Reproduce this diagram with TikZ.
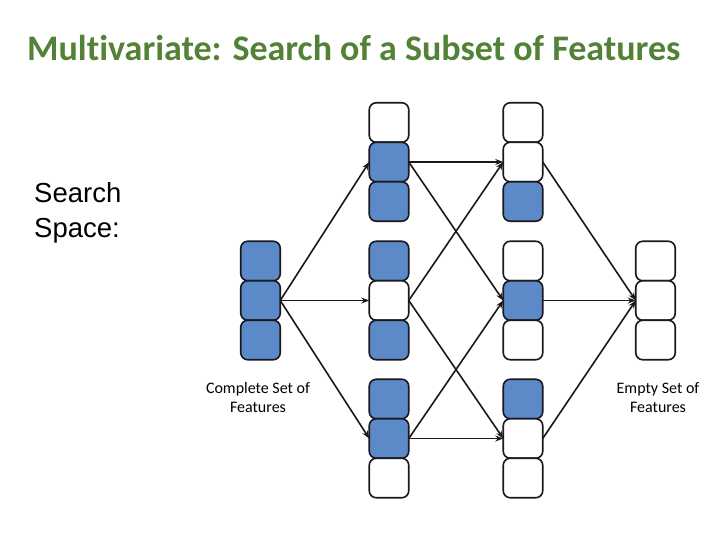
\documentclass[tikz,border=0pt]{standalone}
\usepackage{fontspec}
\setmainfont{Carlito}[Ligatures=NoCommon]
\newfontfamily\arialf{Liberation Sans}
\usetikzlibrary{arrows.meta}
\definecolor{cellblue}{RGB}{92,137,199}
\definecolor{titlegreen}{RGB}{83,129,53}
\definecolor{edgedark}{RGB}{25,25,30}
\tikzset{
  cellbox/.style={draw=edgedark, line width=1.6pt, rounded corners=7pt, minimum width=39.5pt, minimum height=39.5pt, inner sep=0pt, outer sep=0pt},
  bcell/.style={cellbox, fill=cellblue},
  wcell/.style={cellbox, fill=white},
  link/.style={draw=black!90, line width=1.6pt, -{Stealth[length=8pt,width=6pt]}},
  lbl/.style={font=\fontsize{16}{20}\selectfont, anchor=base, inner sep=0pt},
  sslbl/.style={font=\arialf\fontsize{27.5}{34}\selectfont, anchor=base west, inner sep=0pt}
}
\begin{document}
\begin{tikzpicture}[x=1pt,y=-1pt]
\useasboundingbox (0,0) rectangle (720,540);
% title
\node[anchor=base west, inner sep=0pt, text=titlegreen, font=\bfseries\fontsize{36}{42}\selectfont] (title) at (27,61) {Multivariate: Search of a Subset of Features};
% Search Space
\node[sslbl] (ss1) at (34,203) {Search};
\node[sslbl] (ss2) at (34,237) {Space:};
% column 1
\node[bcell] (c1a) at (260.5,261) {};
\node[bcell] (c1b) at (260.5,300.5) {};
\node[bcell] (c1c) at (260.5,340) {};
% column 2
\node[wcell] (c2ta) at (389,122.5) {};
\node[bcell] (c2tb) at (389,162) {};
\node[bcell] (c2tc) at (389,201.5) {};
\node[bcell] (c2ma) at (389,261) {};
\node[wcell] (c2mb) at (389,300.5) {};
\node[bcell] (c2mc) at (389,340) {};
\node[bcell] (c2ba) at (389,399) {};
\node[bcell] (c2bb) at (389,438.5) {};
\node[wcell] (c2bc) at (389,478) {};
% column 3
\node[wcell] (c3ta) at (523,122.5) {};
\node[wcell] (c3tb) at (523,162) {};
\node[bcell] (c3tc) at (523,201.5) {};
\node[wcell] (c3ma) at (523,261) {};
\node[bcell] (c3mb) at (523,300.5) {};
\node[wcell] (c3mc) at (523,340) {};
\node[bcell] (c3ba) at (523,399) {};
\node[wcell] (c3bb) at (523,438.5) {};
\node[wcell] (c3bc) at (523,478) {};
% column 4
\node[wcell] (c4a) at (655.5,261) {};
\node[wcell] (c4b) at (655.5,300.5) {};
\node[wcell] (c4c) at (655.5,340) {};
% labels
\node[lbl] (cl1) at (258,393) {Complete Set of};
\node[lbl] (cl2) at (258,412) {Features};
\node[lbl] (el1) at (658,393) {Empty Set of};
\node[lbl] (el2) at (658,412) {Features};
% links
\draw[link] (c1b.east) -- (c2tb.west);
\draw[link] (c1b.east) -- (c2mb.west);
\draw[link] (c1b.east) -- (c2bb.west);
\draw[link] (c2tb.east) -- (c3tb.west);
\draw[link] (c2tb.east) -- (c3mb.west);
\draw[link] (c2mb.east) -- (c3tb.west);
\draw[link] (c2mb.east) -- (c3bb.west);
\draw[link] (c2bb.east) -- (c3mb.west);
\draw[link] (c2bb.east) -- (c3bb.west);
\draw[link] (c3tb.east) -- (c4b.west);
\draw[link] (c3mb.east) -- (c4b.west);
\draw[link] (c3bb.east) -- (c4b.west);
\end{tikzpicture}
\end{document}
